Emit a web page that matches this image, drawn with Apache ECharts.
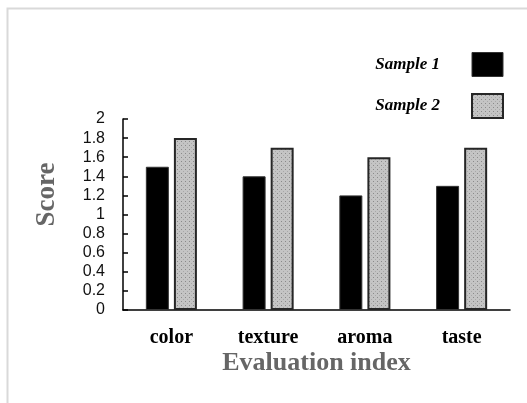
<!DOCTYPE html>
<html><head><meta charset="utf-8">
<script src="https://cdn.jsdelivr.net/npm/echarts@6/dist/echarts.min.js"></script>
<style>html,body{margin:0;padding:0;background:#fff}#c{width:527px;height:403px}</style>
</head><body><div id="c"></div>
<script>
const categories = ['color', 'texture', 'aroma', 'taste'];
const sample1 = [1.5, 1.4, 1.2, 1.3];
const sample2 = [1.8, 1.7, 1.6, 1.7];
const yTicks = [0, 0.2, 0.4, 0.6, 0.8, 1, 1.2, 1.4, 1.6, 1.8, 2];

const pc = document.createElement('canvas');
pc.width = 4; pc.height = 4;
const g = pc.getContext('2d');
g.fillStyle = '#c4c4c4'; g.fillRect(0, 0, 4, 4);
g.fillStyle = '#8a8a8a'; g.fillRect(1, 1, 1, 1);
g.fillStyle = '#a8a8a8'; g.fillRect(3, 3, 1, 1);
const pattern = { image: pc, repeat: 'repeat' };

const chart = echarts.init(document.getElementById('c'));
chart.setOption({
  animation: false,
  backgroundColor: '#fff',
  graphic: [{
    type: 'rect', shape: { x: 7.5, y: 8.5, width: 540, height: 420 },
    style: { fill: 'none', stroke: '#d9d9d9', lineWidth: 2 }, silent: true
  }],
  legend: {
    orient: 'vertical', right: 18, top: 47, align: 'right', icon: 'rect',
    itemWidth: 31, itemHeight: 24, itemGap: 16,
    textStyle: { fontFamily: 'Liberation Serif', fontStyle: 'italic', fontWeight: 'bold', fontSize: 17, color: '#000', padding: [8, 27, 0, 0] },
    data: [
      { name: 'Sample 1', itemStyle: { color: '#000', borderColor: '#333', borderWidth: 1 } },
      { name: 'Sample 2', itemStyle: { color: pattern, borderColor: '#262626', borderWidth: 2 } }
    ]
  },
  grid: { left: 123, right: 17, top: 119, bottom: 93 },
  xAxis: {
    type: 'category', data: categories,
    axisLine: { lineStyle: { color: '#000', width: 1.5 } },
    axisTick: { show: false },
    axisLabel: { fontFamily: 'Liberation Serif', fontWeight: 'bold', fontSize: 20, color: '#000', margin: 18 },
    name: 'Evaluation index', nameLocation: 'middle', nameGap: 40,
    nameTextStyle: { fontFamily: 'Liberation Serif', fontWeight: 'bold', fontSize: 26, color: '#666' }
  },
  yAxis: {
    type: 'value', min: 0, max: 2, interval: 0.2,
    splitLine: { show: false },
    axisLine: { show: true, lineStyle: { color: '#000', width: 1.5 } },
    axisTick: { show: true, inside: true, length: 5, lineStyle: { color: '#000', width: 1.5 } },
    axisLabel: { fontFamily: 'Liberation Sans', fontSize: 16, color: '#111', margin: 18,
      formatter: v => { const t = yTicks.find(x => Math.abs(x - v) < 1e-6); return t === undefined ? '' : String(t); } },
    name: 'Score', nameLocation: 'middle', nameGap: 62,
    nameTextStyle: { fontFamily: 'Liberation Serif', fontWeight: 'bold', fontSize: 27, color: '#666', padding: [0, 0, 0, 40] }
  },
  series: [
    { name: 'Sample 1', type: 'bar', data: sample1, barWidth: 23, barGap: '22%',
      itemStyle: { color: '#000', borderColor: '#333', borderWidth: 1 } },
    { name: 'Sample 2', type: 'bar', data: sample2, barWidth: 23,
      itemStyle: { color: pattern, borderColor: '#262626', borderWidth: 2 } }
  ]
});
</script></body></html>
